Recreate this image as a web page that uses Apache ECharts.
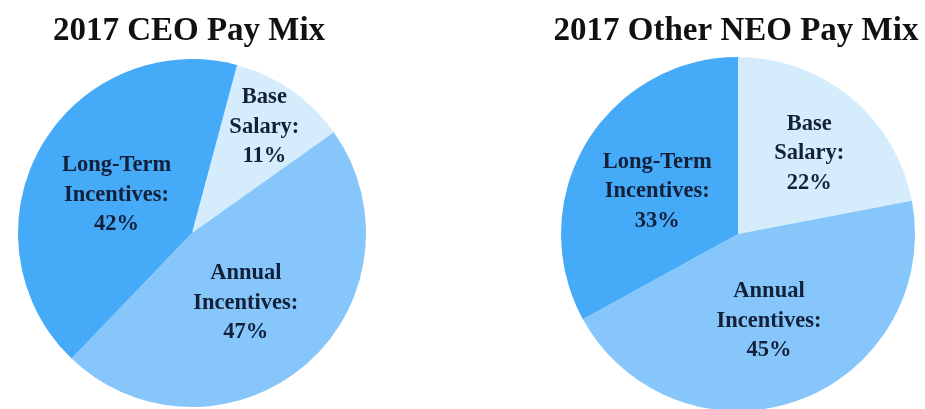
<!DOCTYPE html>
<html><head><meta charset="utf-8">
<script src="https://cdn.jsdelivr.net/npm/echarts@6/dist/echarts.min.js"></script>
<style>html,body{margin:0;padding:0;background:#fff}#c{width:925px;height:409px}</style>
</head><body><div id="c"></div>
<script>
const categories = ['Base Salary', 'Annual Incentives', 'Long-Term Incentives'];
const labelNames = ['Base\nSalary:', 'Annual\nIncentives:', 'Long-Term\nIncentives:'];
const ceoValues = [11, 47, 42];
const neoValues = [22, 45, 33];
const titles = ['2017 CEO Pay Mix', '2017 Other NEO Pay Mix'];
const colors = ['#d5ecfd', '#86c6fa', '#45aaf7'];

const font = '"Liberation Serif","Times New Roman",serif';
function mkData(vals){
  return categories.map((c,i)=>({name:c, value:vals[i], itemStyle:{color:colors[i]}}));
}
function mkSeries(vals, center, radius, startAngle, shifts){
  return {
    type:'pie', center:center, radius:radius, startAngle:startAngle, clockwise:true,
    data: mkData(vals), silent:true, animation:false,
    itemStyle:{borderWidth:0},
    label:{show:true, position:'inside', color:'#13203a', fontFamily:font, fontWeight:'bold',
      fontSize:22.5, lineHeight:29.5,
      formatter:p=>labelNames[p.dataIndex]+'\n'+p.value+'%'},
    labelLine:{show:false},
    labelLayout:function(p){ const s=shifts[p.dataIndex]; return {dx:s[0], dy:s[1]}; }
  };
}
const chart = echarts.init(document.getElementById('c'), null, {renderer:'canvas'});
chart.setOption({
  backgroundColor:'#fff',
  title:[
    {text:titles[0], left:184, top:10, textAlign:'center', textStyle:{fontFamily:font, fontWeight:'bold', fontSize:33, color:'#111'}},
    {text:titles[1], left:731, top:10, textAlign:'center', textStyle:{fontFamily:font, fontWeight:'bold', fontSize:33, color:'#111'}}
  ],
  series:[
    mkSeries(ceoValues, [192,233], 174, 75, [[21,-32],[-5,2],[3,6]]),
    mkSeries(neoValues, [738,234], 177, 90, [[13,-10],[0,1],[-2,4]])
  ]
});
</script></body></html>
